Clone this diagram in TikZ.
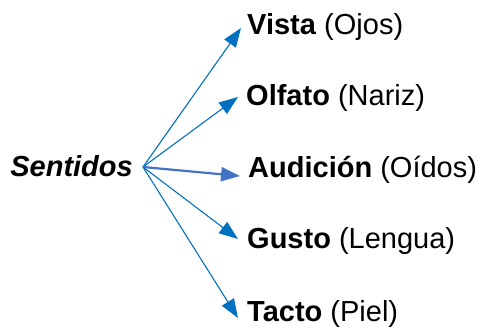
\documentclass[tikz,border=0pt]{standalone}
\usepackage{fontspec}
\setmainfont{Liberation Sans}
\usetikzlibrary{arrows.meta}
\definecolor{arrowblue}{HTML}{0070C0}
\definecolor{midblue}{HTML}{4472C4}
\tikzset{
  sense/.style={anchor=base west, inner sep=0pt, font=\fontsize{29}{34}\selectfont},
  link/.style={draw=arrowblue, line width=1.1pt, -{Triangle[length=19pt,width=14pt]}},
}
\begin{document}
\begin{tikzpicture}[x=1pt, y=-1pt]
      \useasboundingbox (0,0) rectangle (482,331);
      \draw
        (133,177) node[sense, anchor=base east] (sentidos){\textbf{\textit{Sentidos}}}
        (247,34.5) node[sense] (vista){\textbf{Vista} (Ojos)}
        (246,106) node[sense] (olfato){\textbf{Olfato} (Nariz)}
        (248,178) node[sense] (audicion){\textbf{Audición} (Oídos)}
        (247,249) node[sense] (gusto){\textbf{Gusto} (Lengua)}
        (247,321) node[sense] (tacto){\textbf{Tacto} (Piel)};
      \coordinate (hub) at (143,167);
      \coordinate (tipV) at (241,28);
      \coordinate (tipO) at (238,97);
      \coordinate (tipA) at (240,176);
      \coordinate (tipG) at (238,239);
      \coordinate (tipT) at (238,318);
      \begin{scope}[link]
        \draw (hub) to (tipV);
        \draw (hub) to (tipO);
        \draw[draw=midblue, line width=2.2pt] (hub) to (tipA);
        \draw (hub) to (tipG);
        \draw (hub) to (tipT);
      \end{scope}
    \end{tikzpicture}
\end{document}
